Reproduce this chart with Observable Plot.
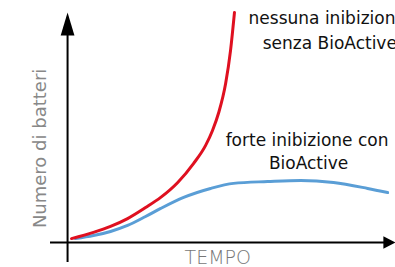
<!DOCTYPE html>
<html><head><meta charset="utf-8">
<script src="https://cdn.jsdelivr.net/npm/d3@7"></script>
<script src="https://cdn.jsdelivr.net/npm/@observablehq/plot@0.6"></script>
<style>body{margin:0;background:#fff;overflow:hidden}</style>
</head><body><div id="chart"></div>
<script>
// Tempo (arbitrary units) and number of bacteria (arbitrary units)
const redTime  = [1.2, 7.9, 13.1, 18.3, 23.8, 28.4, 33.6, 38.4, 42.1, 44.2, 46.1, 48.2, 49.7, 50.9];
const redCount = [1.7, 4.4, 7.0, 10.4, 15.2, 19.6, 26.1, 34.3, 42.2, 48.7, 56.5, 69.1, 83.5, 100];
const blueTime  = [2.4, 7.9, 13.1, 18.3, 23.8, 28.4, 35.4, 43.6, 50.6, 61.0, 71.1, 81.1, 91.5, 97.6];
const blueCount = [1.7, 3.0, 4.8, 7.4, 11.3, 14.8, 19.6, 23.5, 25.7, 26.5, 27.0, 26.1, 23.5, 21.7];

const seriesNames = ["nessuna inibizione", "forte inibizione"];
const seriesColors = ["#df1020", "#5a9ed6"];
const axisLabelX = "TEMPO";
const axisLabelY = "Numero di batteri";
const labelRed = ["nessuna inibizione", "senza BioActive"];
const labelBlue = ["forte inibizione con", "BioActive"];

const red = redTime.map((t, i) => ({t, n: redCount[i]}));
const blue = blueTime.map((t, i) => ({t, n: blueCount[i]}));

// axis arrow heads (data units)
const arrowHeads = [
  {id: "y", t: 0, n: 100}, {id: "y", t: -2.1, n: 90}, {id: "y", t: 2.1, n: 90},
  {id: "x", t: 100, n: 0}, {id: "x", t: 96.3, n: 2.7}, {id: "x", t: 96.3, n: -2.7}
];

const font = "DejaVu Sans";
const plot = Plot.plot({
  width: 395, height: 267,
  margin: 0,
  x: {domain: [-20.45, 100], axis: null},
  y: {domain: [-10.87, 105.2], axis: null},
  style: {fontFamily: font, background: "#fff"},
  marks: [
    Plot.ruleX([0], {y1: -8.7, y2: 92, stroke: "#000", strokeWidth: 2}),
    Plot.ruleY([0], {x1: -5.2, x2: 97, stroke: "#000", strokeWidth: 2}),
    Plot.line(arrowHeads, {x: "t", y: "n", z: "id", fill: "#000", stroke: "none"}),
    Plot.line(blue, {x: "t", y: "n", stroke: seriesColors[1], strokeWidth: 3, curve: "monotone-x"}),
    Plot.line(red, {x: "t", y: "n", stroke: seriesColors[0], strokeWidth: 3, curve: "monotone-x"}),
    Plot.text([labelRed[0]], {x: 55.2, y: 97.4, text: d => d, textAnchor: "start", fontSize: 17, fill: "#111", letterSpacing: "-0.6"}),
    Plot.text([labelRed[1]], {x: 59.5, y: 86.5, text: d => d, textAnchor: "start", fontSize: 17, fill: "#111", letterSpacing: "-0.6"}),
    Plot.text([labelBlue[0]], {x: 48.2, y: 44.3, text: d => d, textAnchor: "start", fontSize: 17, fill: "#111", letterSpacing: "-0.6"}),
    Plot.text([labelBlue[1]], {x: 73.5, y: 34.3, text: d => d, textAnchor: "middle", fontSize: 17, fill: "#111", letterSpacing: "-0.6"}),
    Plot.text([axisLabelX], {x: 45.8, y: -6.5, text: d => d, textAnchor: "middle", fontSize: 19, fill: "#777", fontWeight: 300, letterSpacing: "1"}),
    Plot.text([axisLabelY], {x: -8.2, y: 40.9, text: d => d, textAnchor: "middle", rotate: -90, fontSize: 18, fill: "#888"})
  ]
});
document.getElementById("chart").appendChild(plot);
</script>
</body></html>
